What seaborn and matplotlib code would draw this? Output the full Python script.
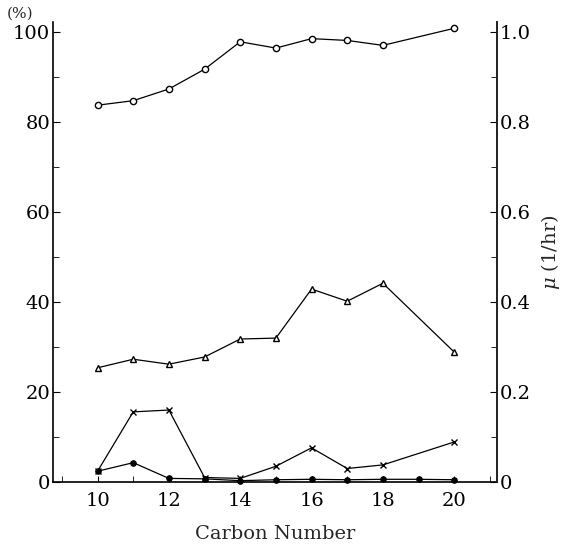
import matplotlib
matplotlib.use("Agg")
import matplotlib.pyplot as plt
import seaborn as sns
import numpy as np
import pandas as pd
from matplotlib.ticker import MultipleLocator, FixedLocator

# ---- data ----
carbon_circle = [10, 11, 12, 13, 14, 15, 16, 17, 18, 20]
pct_circle = [83.8, 84.8, 87.4, 91.8, 97.9, 96.5, 98.6, 98.2, 97.1, 100.9]

carbon_tri = [10, 11, 12, 13, 14, 15, 16, 17, 18, 20]
pct_tri = [25.4, 27.3, 26.2, 27.8, 31.8, 32.0, 42.9, 40.2, 44.2, 28.9]

carbon_cross = [10, 11, 12, 13, 14, 15, 16, 17, 18, 20]
pct_cross = [2.4, 15.6, 16.0, 1.0, 0.8, 3.5, 7.6, 3.0, 3.8, 8.9]

carbon_dot = [10, 11, 12, 13, 14, 15, 16, 17, 18, 19, 20]
pct_dot = [2.4, 4.3, 0.8, 0.7, 0.3, 0.5, 0.6, 0.5, 0.6, 0.6, 0.5]

x_ticks = [10, 12, 14, 16, 18, 20]
left_ticks = [0, 20, 40, 60, 80, 100]
right_ticks = [0, 0.2, 0.4, 0.6, 0.8, 1.0]
right_labels = ["0", "0.2", "0.4", "0.6", "0.8", "1.0"]

sns.set_style("ticks")
plt.rcParams["font.family"] = ["DejaVu Serif"]
plt.rcParams["mathtext.fontset"] = "dejavuserif"

fig = plt.figure(figsize=(5.64, 5.44), dpi=100)
ax = fig.add_axes([53 / 564, 1 - 482 / 544, (497 - 53) / 564, (482 - 22) / 544])

common = dict(color="black", linewidth=0.9, ax=ax, legend=False)
sns.lineplot(x=carbon_circle, y=pct_circle, marker="o", markersize=4.5,
             markerfacecolor="white", markeredgecolor="black", markeredgewidth=1.0, **common)
sns.lineplot(x=carbon_tri, y=pct_tri, marker="^", markersize=5,
             markerfacecolor="white", markeredgecolor="black", markeredgewidth=1.0, **common)
sns.lineplot(x=carbon_cross, y=pct_cross, marker="x", markersize=4.5,
             markeredgecolor="black", markeredgewidth=1.0, **common)
sns.lineplot(x=carbon_dot, y=pct_dot, marker="o", markersize=4,
             markerfacecolor="black", markeredgecolor="black", **common)
for ln in ax.lines:
    ln.set_clip_on(False)

ax.set_xlim(8.75, 21.2)
ax.set_ylim(0, 102.3)
ax.xaxis.set_major_locator(FixedLocator(x_ticks))
ax.xaxis.set_minor_locator(MultipleLocator(1))
ax.yaxis.set_major_locator(FixedLocator(left_ticks))
ax.yaxis.set_minor_locator(MultipleLocator(10))
ax.tick_params(axis="both", which="both", direction="in", labelsize=14, colors="black")
ax.tick_params(axis="x", which="major", length=4, pad=7)
ax.tick_params(axis="x", which="minor", length=4)
ax.tick_params(axis="y", which="major", length=5, pad=2)
ax.tick_params(axis="y", which="minor", length=4)
ax.set_xlabel("Carbon Number", fontsize=14, labelpad=11)
ax.set_ylabel("")
ax.spines["top"].set_visible(False)
for s in ["left", "bottom", "right"]:
    ax.spines[s].set_linewidth(1.2)
    ax.spines[s].set_color("black")

ax2 = ax.twinx()
ax2.set_ylim(0, 1.023)
ax2.yaxis.set_major_locator(FixedLocator(right_ticks))
ax2.set_yticklabels(right_labels)
ax2.yaxis.set_minor_locator(MultipleLocator(0.1))
ax2.tick_params(axis="y", which="both", direction="in", labelsize=14, colors="black")
ax2.tick_params(axis="y", which="major", length=5, pad=2)
ax2.tick_params(axis="y", which="minor", length=4)
ax2.spines["top"].set_visible(False)
ax2.spines["left"].set_visible(False)
ax2.spines["bottom"].set_visible(False)
ax2.spines["right"].set_linewidth(1.2)
ax2.set_ylabel(r"$\mu$ (1/hr)", fontsize=14, labelpad=6)

fig.text(20 / 564, 1 - 14 / 544, "(%)", fontsize=11, ha="center", va="center")

fig.savefig("out.png", dpi=100, facecolor="white")
